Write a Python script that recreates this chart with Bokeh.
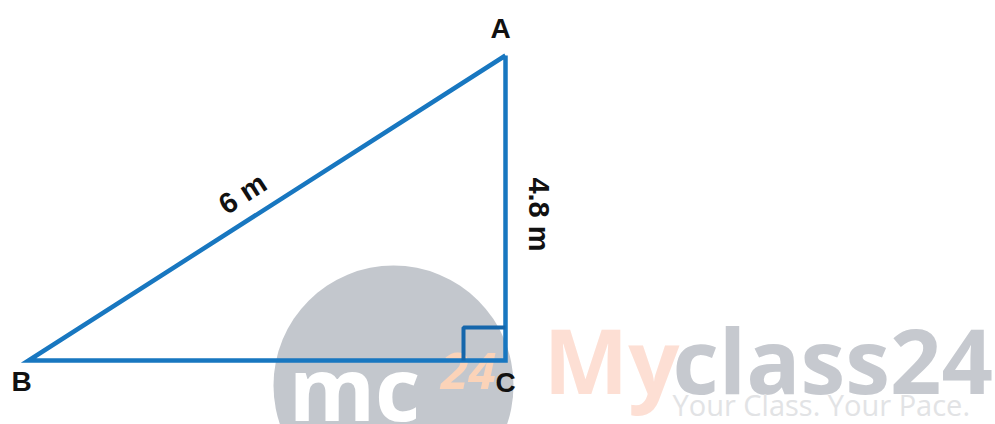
from bokeh.plotting import figure
from bokeh.models import Range1d
from bokeh.core.properties import value
from bokeh.embed import file_html
from bokeh.resources import INLINE
import math

# Triangle vertices (drawing units = pixels of the original picture)
vertex_names = ["A", "B", "C"]
vertex_x = [505, 28, 505]
vertex_y = [55, 360, 360]
side_labels = ["6 m", "4.8 m"]
right_angle_size = [42, 33]

W, H = 995, 424
p = figure(width=W, height=H, output_backend="svg", toolbar_location=None,
           x_range=Range1d(0, W), y_range=Range1d(H, 0),
           min_border=0, background_fill_color="white")
p.axis.visible = False
p.grid.visible = False
p.outline_line_color = None

# watermark circle
p.circle(x=[393], y=[385], radius=120, fill_color="#c3c7cd", line_color=None)
p.text(x=[354], y=[386], text=["mc"], text_color="white", text_font=value("Open Sans"),
       text_font_style="bold", text_font_size="88px", text_align="center", text_baseline="middle")
p.text(x=[468], y=[370], text=["24"], text_color="#fbd3b8", text_font=value("Open Sans"),
       text_font_style="bold italic", text_font_size="50px", text_align="center", text_baseline="middle")

# Myclass24 logo
p.text(x=[543], y=[358], text=["My"], text_color="#fddfd4", text_font=value("Open Sans"),
       text_font_style="bold", text_font_size="90px", text_baseline="middle")
p.text(x=[672], y=[358], text=["class24"], text_color="#c6c9cf", text_font=value("Open Sans"),
       text_font_style="bold", text_font_size="90px", text_baseline="middle")
p.text(x=[672], y=[404], text=["Your Class. Your Pace."], text_color="#e2e3e5",
       text_font=value("Open Sans"), text_font_size="29px", text_baseline="middle")

# triangle
blue = "#1877c0"
xs = vertex_x + [vertex_x[0]]
ys = vertex_y + [vertex_y[0]]
p.line(xs, ys, line_color=blue, line_width=4.5, line_join="miter")

# right-angle marker at C
cx, cy = vertex_x[2], vertex_y[2]
sx, sy = right_angle_size
p.line([cx - sx, cx - sx, cx], [cy, cy - sy, cy - sy], line_color="#1566ab", line_width=4)

# vertex labels
lab_font = value("Liberation Sans")
p.text(x=[vertex_x[0] - 5, vertex_x[1] - 7, vertex_x[2]], y=[vertex_y[0] - 27, vertex_y[1] + 21, vertex_y[2] + 22],
       text=vertex_names, text_font=lab_font, text_font_style="bold", text_font_size="28px",
       text_color="#111111", text_align="center", text_baseline="middle")

# side labels
ang = math.atan2(vertex_y[1] - vertex_y[0], vertex_x[0] - vertex_x[1])
p.text(x=[242], y=[193], text=[side_labels[0]], angle=ang, text_font=lab_font, text_font_style="bold",
       text_font_size="29px", text_color="#111111", text_align="center", text_baseline="middle")
p.text(x=[538], y=[214], text=[side_labels[1]], angle=-math.pi / 2, text_font=lab_font, text_font_style="bold",
       text_font_size="29px", text_color="#111111", text_align="center", text_baseline="middle")

open("out.html", "w").write(file_html(p, INLINE))
